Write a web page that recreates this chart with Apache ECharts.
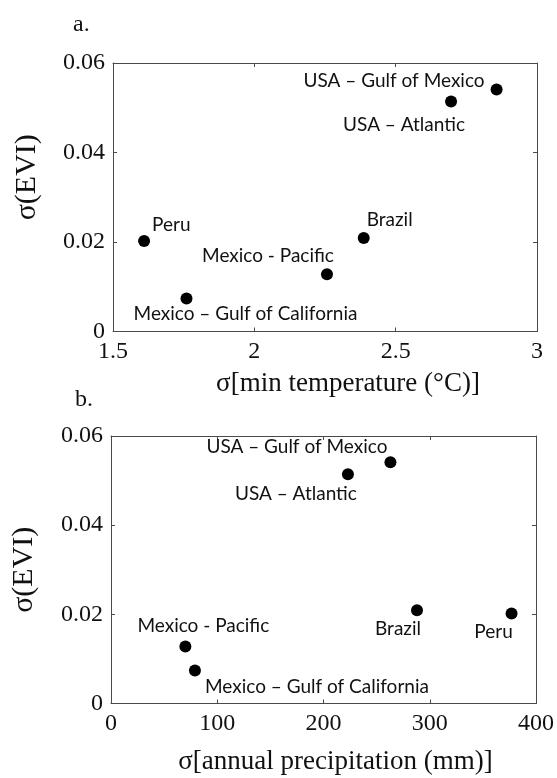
<!DOCTYPE html>
<html>
<head>
<meta charset="utf-8">
<script src="https://cdn.jsdelivr.net/npm/echarts@6/dist/echarts.min.js"></script>
<style>
  html, body { margin: 0; padding: 0; background: #fff; }
  #chart { width: 557px; height: 778px; }
</style>
</head>
<body>
<div id="chart"></div>
<script>
// ---- data ----
const regions = ['Peru', 'Mexico – Gulf of California', 'Mexico - Pacific', 'Brazil', 'USA – Atlantic', 'USA – Gulf of Mexico'];
const eviSd = [0.0202, 0.0074, 0.0128, 0.0209, 0.0514, 0.0541];
const minTempSd = [1.61, 1.76, 2.257, 2.387, 2.696, 2.857];
const precipSd = [377, 79, 70, 288, 223, 263];
const xTicksA = [1.5, 2, 2.5, 3];
const xTicksB = [0, 100, 200, 300, 400];
const yTicks = [0, 0.02, 0.04, 0.06];

// ---- label placement (style) ----
const labelPosA = [
  { align: 'left', offset: [8, -16] },
  { align: 'center', offset: [59, 15] },
  { align: 'center', offset: [-59, -18] },
  { align: 'left', offset: [3, -18] },
  { align: 'center', offset: [-47, 23] },
  { align: 'right', offset: [-12, -9] }
];
const labelPosB = [
  { align: 'center', offset: [-18, 18] },
  { align: 'center', offset: [122, 16] },
  { align: 'center', offset: [18, -21] },
  { align: 'center', offset: [-19, 19] },
  { align: 'center', offset: [-52, 20] },
  { align: 'right', offset: [-3, -15] }
];

const serif = '"Liberation Serif", "DejaVu Serif", serif';
const sans = 'Lato, "Open Sans", sans-serif';
const axisColor = '#4a4a4a';

function buildData(xs, pos) {
  return regions.map((name, i) => ({
    name: name,
    value: [xs[i], eviSd[i]],
    label: {
      show: true,
      position: 'inside',
      formatter: name,
      align: pos[i].align,
      verticalAlign: 'middle',
      offset: pos[i].offset
    }
  }));
}

function fmt(v) { return String(+v.toFixed(4)); }

function mainX(gi, ticks, name, gap, pad) {
  return {
    gridIndex: gi, type: 'value', position: 'bottom',
    min: ticks[0], max: ticks[ticks.length - 1],
    interval: ticks[1] - ticks[0],
    name: name, nameLocation: 'middle', nameGap: gap,
    nameTextStyle: { fontFamily: serif, fontSize: 27, color: '#111', padding: pad },
    axisLine: { show: true, onZero: false, lineStyle: { color: axisColor, width: 1 } },
    axisTick: { show: true, inside: true, length: 4, lineStyle: { color: axisColor } },
    axisLabel: { fontFamily: serif, fontSize: 24, color: '#111', margin: 8, formatter: fmt },
    splitLine: { show: false }
  };
}
function mirrorX(gi, ticks) {
  return {
    gridIndex: gi, type: 'value', position: 'top',
    min: ticks[0], max: ticks[ticks.length - 1],
    interval: ticks[1] - ticks[0],
    axisLine: { show: true, onZero: false, lineStyle: { color: axisColor, width: 1 } },
    axisTick: { show: true, inside: true, length: 4, lineStyle: { color: axisColor } },
    axisLabel: { show: false },
    splitLine: { show: false }
  };
}
function mainY(gi, gap, pad) {
  return {
    gridIndex: gi, type: 'value', position: 'left',
    min: yTicks[0], max: yTicks[yTicks.length - 1],
    interval: yTicks[1] - yTicks[0],
    name: 'σ(EVI)', nameLocation: 'middle', nameGap: gap,
    nameTextStyle: { fontFamily: serif, fontSize: 30, color: '#111', padding: pad },
    axisLine: { show: true, onZero: false, lineStyle: { color: axisColor, width: 1 } },
    axisTick: { show: true, inside: true, length: 4, lineStyle: { color: axisColor } },
    axisLabel: { fontFamily: serif, fontSize: 24, color: '#111', margin: 8, formatter: fmt },
    splitLine: { show: false }
  };
}
function mirrorY(gi) {
  return {
    gridIndex: gi, type: 'value', position: 'right',
    min: yTicks[0], max: yTicks[yTicks.length - 1],
    interval: yTicks[1] - yTicks[0],
    axisLine: { show: true, onZero: false, lineStyle: { color: axisColor, width: 1 } },
    axisTick: { show: true, inside: true, length: 4, lineStyle: { color: axisColor } },
    axisLabel: { show: false },
    splitLine: { show: false }
  };
}

const chart = echarts.init(document.getElementById('chart'), null, { renderer: 'canvas' });
chart.setOption({
  backgroundColor: '#fff',
  animation: false,
  title: [
    { text: 'a.', left: 68, top: 8, textStyle: { fontFamily: serif, fontSize: 24, fontWeight: 'normal', color: '#111' } },
    { text: 'b.', left: 70, top: 383, textStyle: { fontFamily: serif, fontSize: 24, fontWeight: 'normal', color: '#111' } }
  ],
  grid: [
    { left: 113, right: 20, top: 63, height: 268.5, containLabel: false },
    { left: 111, right: 21, top: 436, height: 267.5, containLabel: false }
  ],
  xAxis: [
    mainX(0, xTicksA, 'σ[min temperature (°C)]', 39, [0, 0, 0, 46]),
    mirrorX(0, xTicksA),
    mainX(1, xTicksB, 'σ[annual precipitation (mm)]', 45, [0, 0, 0, 24]),
    mirrorX(1, xTicksB)
  ],
  yAxis: [
    mainY(0, 71, [0, 0, 0, 40]),
    mirrorY(0),
    mainY(1, 72, [0, 0, 0, 0]),
    mirrorY(1)
  ],
  series: [
    {
      type: 'scatter', xAxisIndex: 0, yAxisIndex: 0,
      symbol: 'circle', symbolSize: 12,
      itemStyle: { color: '#000', opacity: 1 },
      label: { fontFamily: sans, fontSize: 19, color: '#111' },
      data: buildData(minTempSd, labelPosA)
    },
    {
      type: 'scatter', xAxisIndex: 2, yAxisIndex: 2,
      symbol: 'circle', symbolSize: 12,
      itemStyle: { color: '#000', opacity: 1 },
      label: { fontFamily: sans, fontSize: 19, color: '#111' },
      data: buildData(precipSd, labelPosB)
    }
  ]
});
</script>
</body>
</html>
